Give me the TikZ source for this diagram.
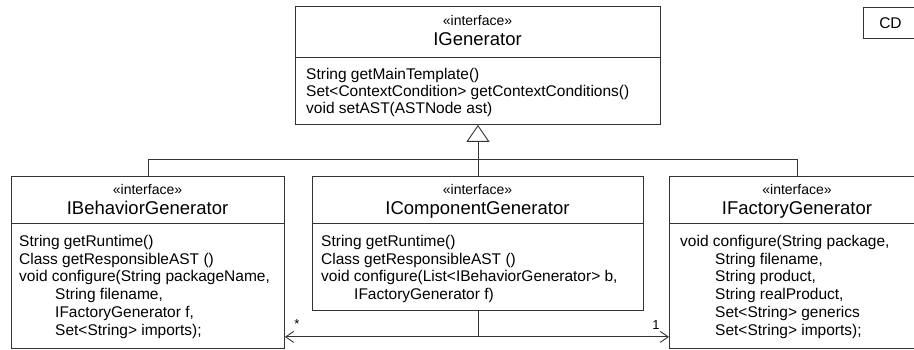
\documentclass[tikz,border=0pt]{standalone}
\usepackage{fontspec}
\setmainfont{Liberation Sans}
\usetikzlibrary{arrows.meta}
\definecolor{lin}{HTML}{333333}
\begin{document}
\begin{tikzpicture}[x=1pt,y=-1pt,
  classbox/.style={draw=lin, line width=0.9pt, fill=white, inner sep=0pt, anchor=north west},
  stereo/.style={font=\fontsize{14}{16}\selectfont, inner sep=0pt, anchor=base},
  cname/.style={font=\fontsize{18.5}{21}\selectfont, inner sep=0pt, anchor=base},
  member/.style={font=\fontsize{15.5}{17.7}\selectfont, inner sep=0pt, anchor=base west},
  mult/.style={font=\fontsize{13}{15}\selectfont, inner sep=0pt},
  conn/.style={draw=lin, line width=0.9pt},
  assoc/.style={conn, -{Straight Barb[length=8pt,width=11pt,line width=0.9pt]}},
  gen/.style={conn, -{Triangle[open,length=17pt,width=23pt,line width=0.9pt]}}
]
\useasboundingbox (0,0) rectangle (914,350);

% ---------- IGenerator ----------
\node[classbox, minimum width=365pt, minimum height=118pt] (ig) at (295,6) {};
\draw[conn] (295,57) -- (660,57);
\node[stereo] (igs) at (477.5,26) {«interface»};
\node[cname] (ign) at (477.5,46) {IGenerator};
\foreach \t [count=\i] in {{String getMainTemplate()},{Set<ContextCondition> getContextConditions()},{void setAST(ASTNode ast)}}
  \node[member] (igm\i) at (306,{62.5+17*\i}) {\t};

% ---------- IBehaviorGenerator ----------
\node[classbox, minimum width=273pt, minimum height=172pt] (beh) at (11,176) {};
\draw[conn] (11,223) -- (284,223);
\node[stereo] (behs) at (147.5,194.5) {«interface»};
\node[cname] (behn) at (147.5,214.5) {IBehaviorGenerator};
\foreach \dx/\t [count=\i] in {0/{String getRuntime()},0/{Class getResponsibleAST ()},0/{void configure(String packageName,},36/{String filename,},36/{IFactoryGenerator f,},36/{Set<String> imports);}}
  \node[member] (behm\i) at ({19+\dx},{228.8+17.7*\i}) {\t};

% ---------- IComponentGenerator ----------
\node[classbox, minimum width=331pt, minimum height=134pt] (comp) at (312,176) {};
\draw[conn] (312,223) -- (643,223);
\node[stereo] (comps) at (477.5,194.5) {«interface»};
\node[cname] (compn) at (477.5,214.5) {IComponentGenerator};
\foreach \dx/\t [count=\i] in {0/{String getRuntime()},0/{Class getResponsibleAST ()},0/{void configure(List<IBehaviorGenerator> b,},33/{IFactoryGenerator f)}}
  \node[member] (compm\i) at ({321+\dx},{228.8+17.7*\i}) {\t};

% ---------- IFactoryGenerator ----------
\node[classbox, minimum width=256pt, minimum height=172pt] (fac) at (669,176) {};
\draw[conn] (669,223) -- (925,223);
\node[stereo] (facs) at (797,194.5) {«interface»};
\node[cname] (facn) at (797,214.5) {IFactoryGenerator};
\foreach \dx/\t [count=\i] in {0/{void configure(String package,},35/{String filename,},35/{String product,},35/{String realProduct,},35/{Set<String> generics},35/{Set<String> imports);}}
  \node[member] (facm\i) at ({680+\dx},{228.8+17.7*\i}) {\t};

% ---------- CD tag ----------
\node[classbox, minimum width=54pt, minimum height=31pt] (cd) at (863,7) {};
\node[font=\fontsize{15.5}{17}\selectfont, inner sep=0pt] (cdt) at (cd.center) {CD};

% ---------- generalisation ----------
\coordinate (j) at (477.5,159);
\draw[gen] (comp.north) -- (ig.south);
\draw[conn] (beh.north) |- (j);
\draw[conn] (fac.north) |- (j);

% ---------- associations ----------
\draw[assoc] (comp.south) |- ([yshift=12pt]beh.south east);
\draw[assoc] (comp.south) |- ([yshift=12pt]fac.south west);
\node[mult] (m1) at (297,324) {*};
\node[mult] (m2) at (656,325) {1};
\end{tikzpicture}
\end{document}
